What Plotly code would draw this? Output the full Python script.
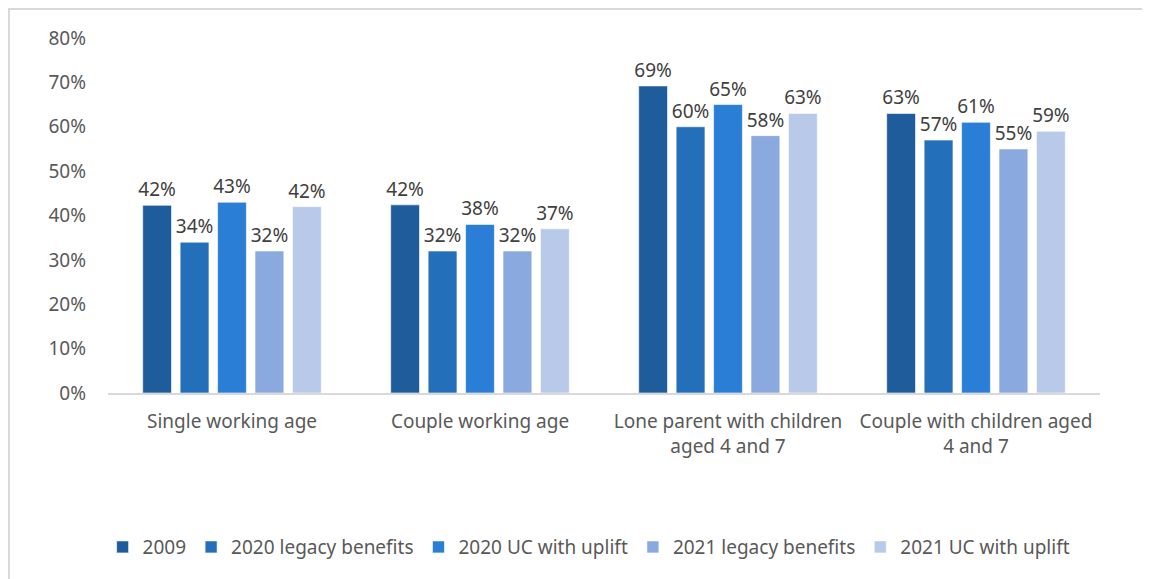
import plotly.graph_objects as go

categories = ["Single working age", "Couple working age",
              "Lone parent with children<br>aged 4 and 7",
              "Couple with children aged<br>4 and 7"]
series_names = ["2009", "2020 legacy benefits", "2020 UC with uplift",
                "2021 legacy benefits", "2021 UC with uplift"]
values_2009 = [0.423, 0.424, 0.692, 0.630]
values_2020_legacy = [0.340, 0.320, 0.600, 0.570]
values_2020_uc = [0.430, 0.380, 0.650, 0.610]
values_2021_legacy = [0.320, 0.320, 0.580, 0.550]
values_2021_uc = [0.420, 0.370, 0.630, 0.590]
colors = ["#1E5C9C", "#236FBA", "#2A7ED6", "#8AA9DE", "#B8C9EA"]

all_values = [values_2009, values_2020_legacy, values_2020_uc,
              values_2021_legacy, values_2021_uc]

fig = go.Figure()
for name, vals, col in zip(series_names, all_values, colors):
    fig.add_trace(go.Bar(
        x=categories, y=vals, name=name,
        marker=dict(color=col, line=dict(color="rgba(255,255,255,0.6)", width=1)),
        text=[f"{round(v*100):.0f}%" for v in vals],
        textposition="outside", cliponaxis=False, constraintext="none",
        textfont=dict(size=19, color="#404040"),
    ))

L, T, PW, PH = 100, 30, 992, 355
fig.update_layout(
    width=1150, height=579,
    margin=dict(l=L, r=1150 - L - PW, t=T, b=579 - T - PH),
    paper_bgcolor="white", plot_bgcolor="white",
    font=dict(family="Noto Sans, Open Sans, sans-serif", color="#595959", size=19),
    barmode="group", bargap=0.245, bargroupgap=0.23,
    showlegend=True,
    legend=dict(orientation="h", x=0.485, xanchor="center", y=-0.434, yanchor="middle",
                font=dict(size=19, color="#595959"), itemwidth=30, traceorder="normal"),
    shapes=[dict(type="rect", xref="paper", yref="paper",
                 x0=(1 - L) / PW, x1=(1170 - L) / PW,
                 y0=(PH + T - 620) / PH, y1=(PH + T - 1) / PH,
                 line=dict(color="#D9D9D9", width=2), layer="below")],
)
fig.update_xaxes(showline=True, linecolor="#D9D9D9", linewidth=2, ticks="",
                 tickfont=dict(size=19, color="#595959"), showgrid=False,
                 ticklabelstandoff=10)
fig.update_yaxes(range=[0, 0.8], tickformat=".0%", dtick=0.1, showgrid=False,
                 zeroline=False, showline=False, ticks="",
                 tickfont=dict(size=19, color="#595959"), ticklabelstandoff=21)

fig.write_html("out.html")
